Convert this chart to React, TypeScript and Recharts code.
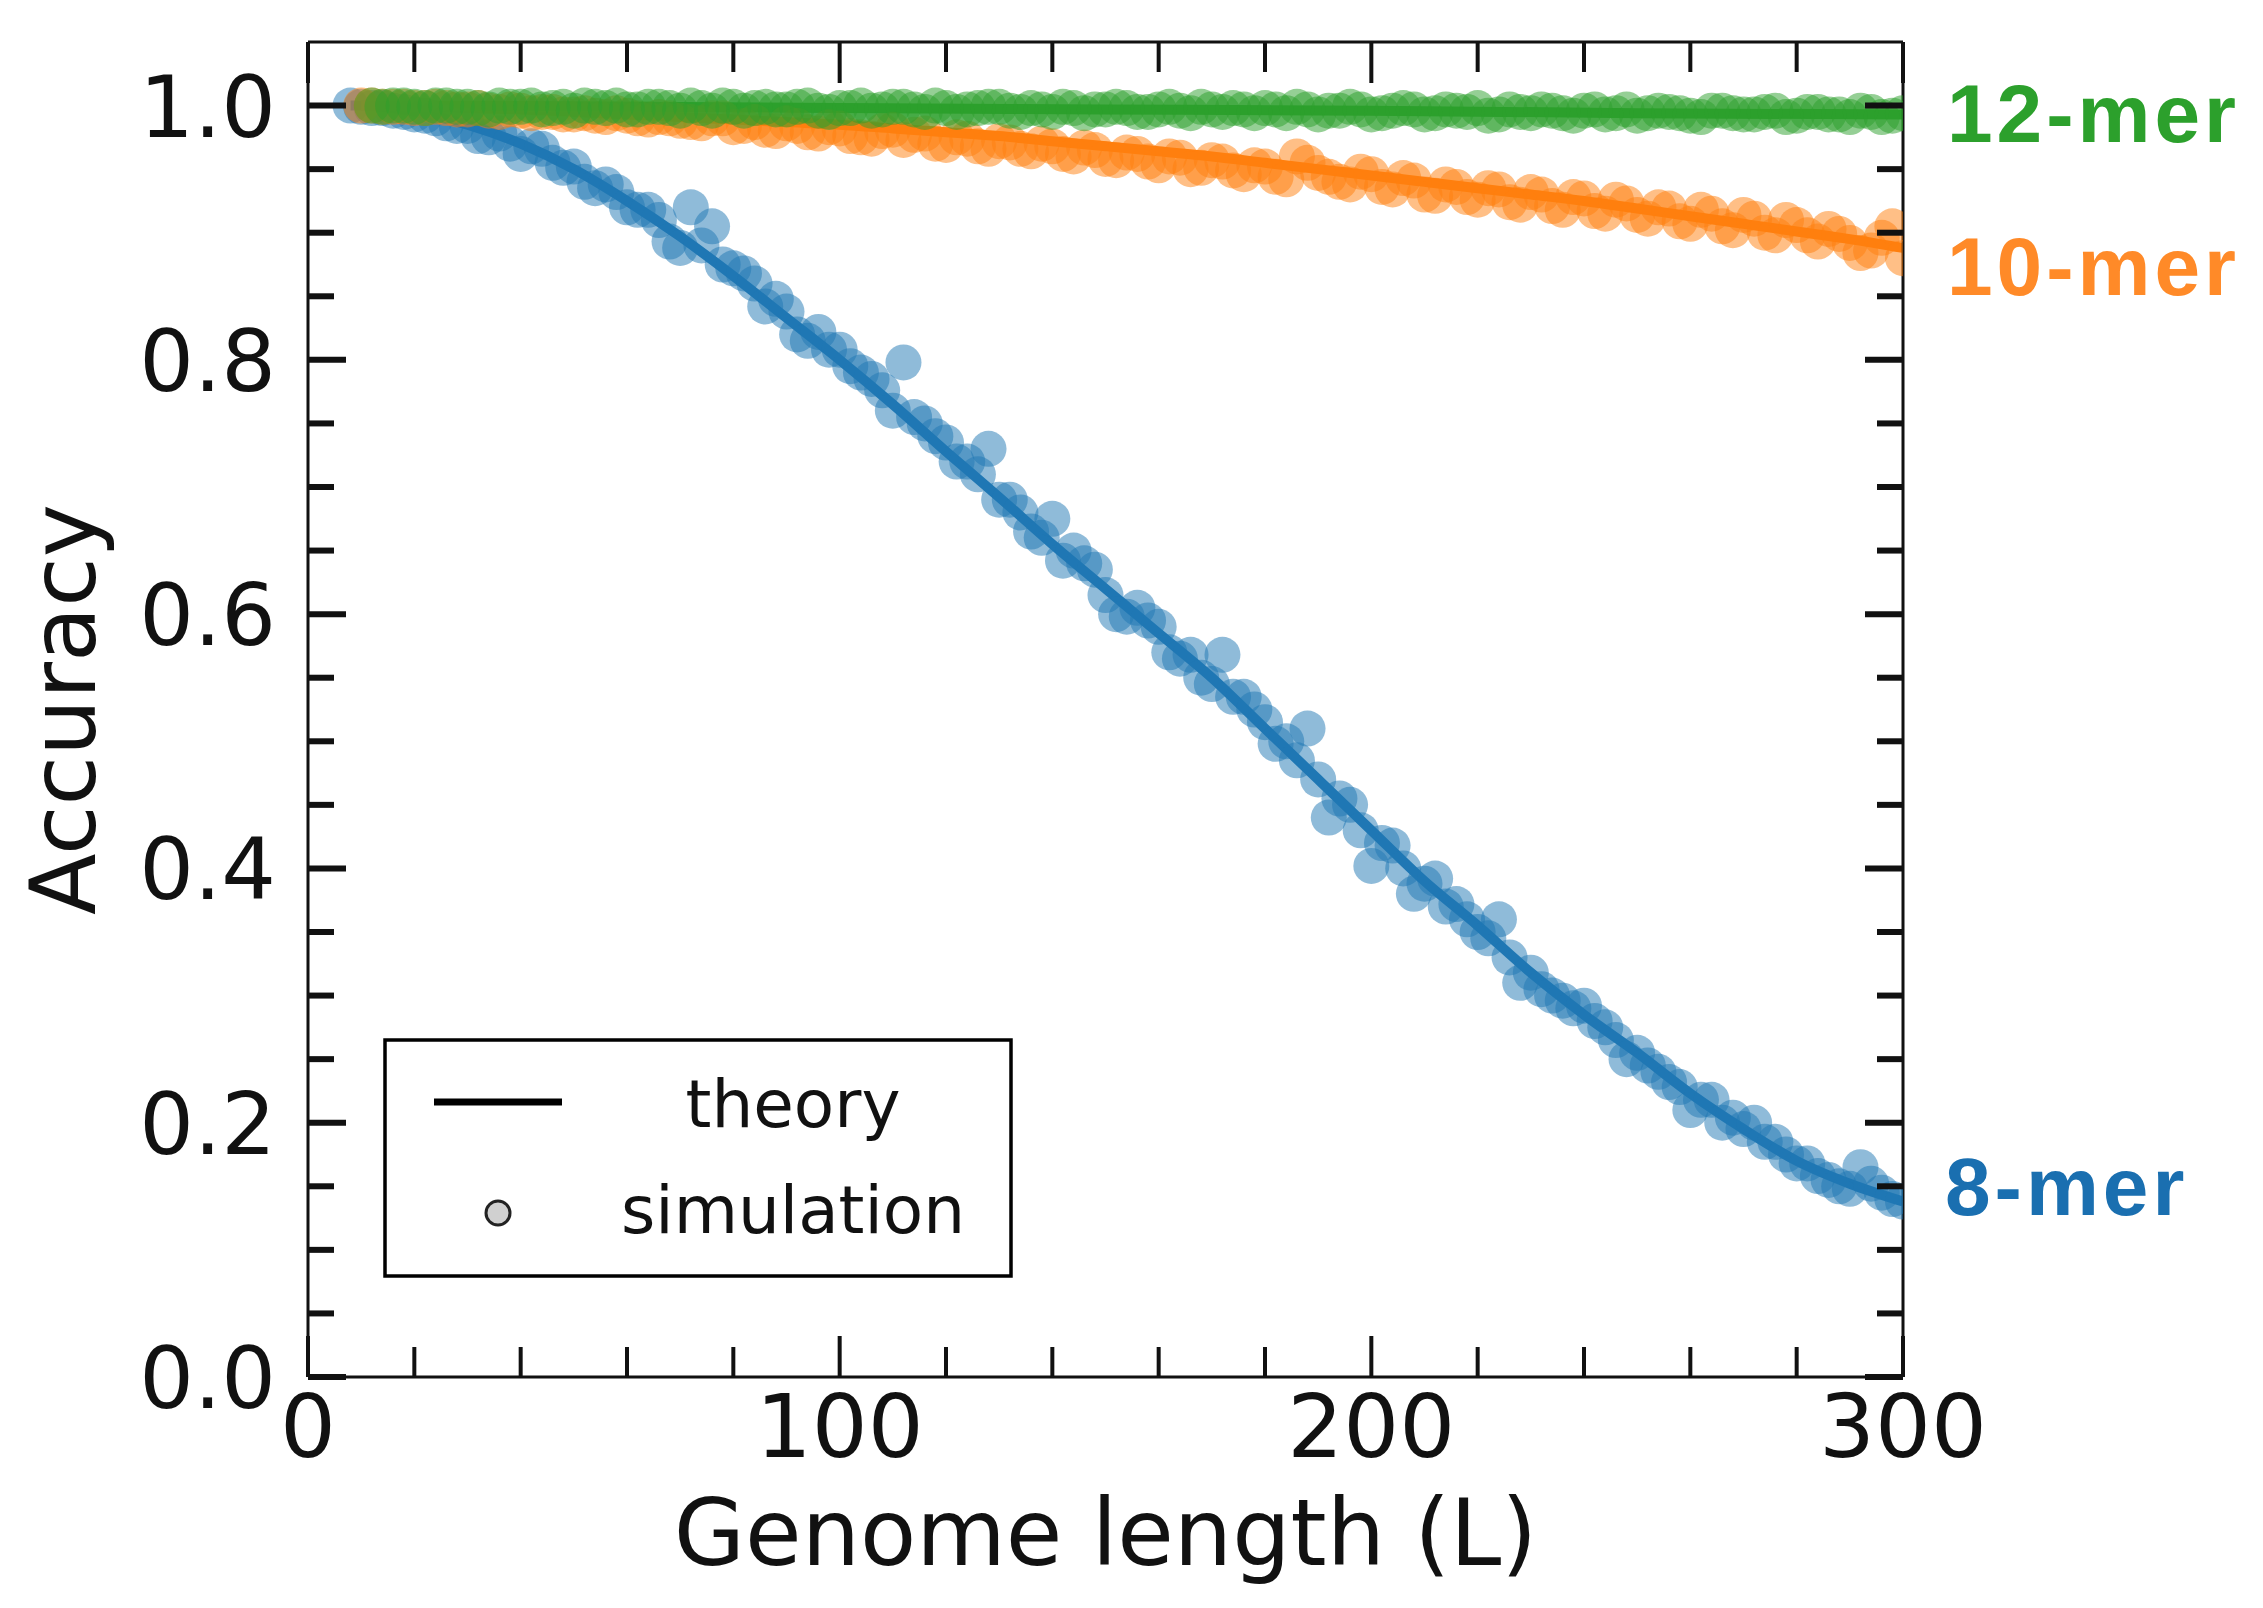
import { ComposedChart, Line, Scatter, XAxis, YAxis } from 'recharts';

// canvas and plot frame (pixels)
const W = 2263;
const H = 1608;
const PL = 308;
const PR = 1903;
const PT = 42;
const PB = 1377;

const X_TICKS = [0, 20, 40, 60, 80, 100, 120, 140, 160, 180, 200, 220, 240, 260, 280, 300];
const X_MAJOR = [0, 100, 200, 300];
const Y_TICKS = [0, 0.05, 0.1, 0.15, 0.2, 0.25, 0.3, 0.35, 0.4, 0.45, 0.5, 0.55, 0.6, 0.65, 0.7, 0.75, 0.8, 0.85, 0.9, 0.95, 1.0];
const Y_MAJOR = [0, 0.2, 0.4, 0.6, 0.8, 1.0];

// theory curves
const THEORY_L_8 = [8, 10, 20, 30, 40, 50, 60, 70, 80, 90, 100, 110, 120, 130, 140, 150, 160, 170, 180, 190, 200, 210, 220, 230, 240, 250, 260, 270, 280, 290, 300];
const THEORY_8 = [1.0, 1.0, 0.995, 0.985, 0.97, 0.95, 0.925, 0.897, 0.866, 0.833, 0.8, 0.765, 0.728, 0.692, 0.655, 0.62, 0.585, 0.55, 0.51, 0.47, 0.43, 0.39, 0.355, 0.318, 0.285, 0.255, 0.223, 0.195, 0.17, 0.152, 0.138];

const THEORY_L_10 = [10, 20, 30, 40, 50, 60, 70, 80, 90, 100, 110, 120, 130, 140, 150, 160, 170, 180, 190, 200, 210, 220, 230, 240, 250, 260, 270, 280, 290, 300];
const THEORY_10 = [1.0, 0.9995, 0.998, 0.997, 0.995, 0.993, 0.991, 0.989, 0.987, 0.985, 0.982, 0.979, 0.976, 0.972, 0.968, 0.964, 0.96, 0.955, 0.95, 0.945, 0.94, 0.935, 0.93, 0.925, 0.919, 0.913, 0.907, 0.901, 0.895, 0.888];

const THEORY_L_12 = [12, 50, 100, 150, 200, 250, 300];
const THEORY_12 = [1.0, 0.9995, 0.998, 0.997, 0.996, 0.994, 0.993];

// simulation points, 8-mer
const SIM_L_8 = [8, 12, 16, 20, 24, 28, 32, 36, 40, 44, 48, 52, 56, 60, 64, 68, 72, 76, 80, 84, 88, 92, 96, 100, 104, 108, 112, 116, 120, 124, 128, 132, 136, 140, 144, 148, 152, 156, 160, 164, 168, 172, 176, 180, 184, 188, 192, 196, 200, 204, 208, 212, 216, 220, 224, 228, 232, 236, 240, 244, 248, 252, 256, 260, 264, 268, 272, 276, 280, 284, 288, 292, 296, 300];
const SIM_8 = [1.0, 0.998, 0.996, 0.993, 0.99, 0.984, 0.976, 0.978, 0.962, 0.966, 0.951, 0.94, 0.938, 0.92, 0.918, 0.893, 0.92, 0.905, 0.872, 0.86, 0.848, 0.82, 0.822, 0.808, 0.79, 0.776, 0.798, 0.75, 0.735, 0.72, 0.73, 0.69, 0.665, 0.675, 0.65, 0.635, 0.6, 0.605, 0.59, 0.565, 0.55, 0.568, 0.535, 0.515, 0.5, 0.51, 0.44, 0.45, 0.402, 0.418, 0.38, 0.392, 0.372, 0.35, 0.36, 0.31, 0.305, 0.296, 0.292, 0.275, 0.25, 0.245, 0.232, 0.21, 0.218, 0.204, 0.2, 0.185, 0.168, 0.158, 0.15, 0.165, 0.145, 0.138];
const SIM_L_8B = [10, 14, 18, 22, 26, 30, 34, 38, 42, 46, 50, 54, 58, 62, 66, 70, 74, 78, 82, 86, 90, 94, 98, 102, 106, 110, 114, 118, 122, 126, 130, 134, 138, 142, 146, 150, 154, 158, 162, 166, 170, 174, 178, 182, 186, 190, 194, 198, 202, 206, 210, 214, 218, 222, 226, 230, 234, 238, 242, 246, 250, 254, 258, 262, 266, 270, 274, 278, 282, 286, 290, 294, 298];
const SIM_8B = [0.999, 0.998, 0.995, 0.992, 0.986, 0.984, 0.975, 0.97, 0.968, 0.955, 0.952, 0.935, 0.932, 0.918, 0.91, 0.888, 0.89, 0.875, 0.868, 0.842, 0.838, 0.815, 0.808, 0.795, 0.785, 0.76, 0.755, 0.74, 0.72, 0.71, 0.69, 0.68, 0.66, 0.642, 0.64, 0.615, 0.598, 0.595, 0.57, 0.568, 0.545, 0.535, 0.525, 0.498, 0.485, 0.47, 0.455, 0.43, 0.42, 0.4, 0.388, 0.37, 0.36, 0.345, 0.33, 0.318, 0.3, 0.29, 0.28, 0.265, 0.255, 0.24, 0.228, 0.218, 0.2, 0.195, 0.185, 0.175, 0.168, 0.155, 0.148, 0.152, 0.14];

// simulation points, 10-mer
const SIM_L_10 = [10, 14, 18, 22, 26, 30, 34, 38, 42, 46, 50, 54, 58, 62, 66, 70, 74, 78, 82, 86, 90, 94, 98, 102, 106, 110, 114, 118, 122, 126, 130, 134, 138, 142, 146, 150, 154, 158, 162, 166, 170, 174, 178, 182, 186, 190, 194, 198, 202, 206, 210, 214, 218, 222, 226, 230, 234, 238, 242, 246, 250, 254, 258, 262, 266, 270, 274, 278, 282, 286, 290, 294, 298];
const SIM_10 = [1.0, 0.999, 0.999, 0.998, 0.998, 0.997, 0.996, 0.997, 0.994, 0.995, 0.993, 0.992, 0.994, 0.99, 0.991, 0.988, 0.986, 0.99, 0.984, 0.981, 0.986, 0.979, 0.983, 0.976, 0.974, 0.981, 0.977, 0.97, 0.975, 0.968, 0.972, 0.966, 0.97, 0.962, 0.967, 0.958, 0.963, 0.956, 0.96, 0.95, 0.957, 0.949, 0.953, 0.944, 0.96, 0.947, 0.94, 0.948, 0.936, 0.943, 0.93, 0.938, 0.928, 0.935, 0.924, 0.932, 0.921, 0.928, 0.917, 0.926, 0.914, 0.92, 0.909, 0.918, 0.905, 0.914, 0.9, 0.91, 0.898, 0.903, 0.892, 0.886, 0.905];
const SIM_L_10B = [12, 16, 20, 24, 28, 32, 36, 40, 44, 48, 52, 56, 60, 64, 68, 72, 76, 80, 84, 88, 92, 96, 100, 104, 108, 112, 116, 120, 124, 128, 132, 136, 140, 144, 148, 152, 156, 160, 164, 168, 172, 176, 180, 184, 188, 192, 196, 200, 204, 208, 212, 216, 220, 224, 228, 232, 236, 240, 244, 248, 252, 256, 260, 264, 268, 272, 276, 280, 284, 288, 292, 296, 300];
const SIM_10B = [1.0, 0.999, 0.998, 0.999, 0.997, 0.998, 0.995, 0.996, 0.995, 0.993, 0.994, 0.991, 0.992, 0.989, 0.99, 0.987, 0.99, 0.983, 0.987, 0.98, 0.984, 0.978, 0.982, 0.975, 0.98, 0.973, 0.978, 0.969, 0.974, 0.966, 0.971, 0.964, 0.968, 0.96, 0.965, 0.957, 0.962, 0.953, 0.959, 0.951, 0.956, 0.946, 0.952, 0.942, 0.955, 0.944, 0.938, 0.946, 0.934, 0.941, 0.929, 0.936, 0.926, 0.934, 0.922, 0.93, 0.918, 0.927, 0.915, 0.923, 0.911, 0.919, 0.907, 0.915, 0.902, 0.911, 0.898, 0.906, 0.893, 0.899, 0.884, 0.896, 0.88];

// simulation points, 12-mer
const SIM_L_12 = [12, 16, 20, 24, 28, 32, 36, 40, 44, 48, 52, 56, 60, 64, 68, 72, 76, 80, 84, 88, 92, 96, 100, 104, 108, 112, 116, 120, 124, 128, 132, 136, 140, 144, 148, 152, 156, 160, 164, 168, 172, 176, 180, 184, 188, 192, 196, 200, 204, 208, 212, 216, 220, 224, 228, 232, 236, 240, 244, 248, 252, 256, 260, 264, 268, 272, 276, 280, 284, 288, 292, 296, 300];
const SIM_12 = [1.0, 1.0, 0.999, 1.0, 0.999, 0.998, 1.0, 0.999, 0.997, 0.999, 1.0, 0.998, 0.997, 0.999, 0.998, 1.0, 0.996, 0.999, 0.998, 0.997, 0.999, 0.996, 0.998, 1.0, 0.997, 0.999, 0.995, 0.998, 0.997, 0.999, 0.996, 0.998, 0.995, 0.998, 0.997, 0.999, 0.995, 0.997, 0.996, 0.999, 0.995, 0.997, 0.998, 0.994, 0.997, 0.996, 0.999, 0.993, 0.996, 0.997, 0.994, 0.996, 0.998, 0.993, 0.995, 0.997, 0.994, 0.996, 0.993, 0.997, 0.994, 0.995, 0.992, 0.996, 0.994, 0.993, 0.996, 0.992, 0.995, 0.993, 0.996, 0.991, 0.994];
const SIM_L_12B = [14, 18, 22, 26, 30, 34, 38, 42, 46, 50, 54, 58, 62, 66, 70, 74, 78, 82, 86, 90, 94, 98, 102, 106, 110, 114, 118, 122, 126, 130, 134, 138, 142, 146, 150, 154, 158, 162, 166, 170, 174, 178, 182, 186, 190, 194, 198, 202, 206, 210, 214, 218, 222, 226, 230, 234, 238, 242, 246, 250, 254, 258, 262, 266, 270, 274, 278, 282, 286, 290, 294, 298];
const SIM_12B = [0.999, 1.0, 0.998, 1.0, 0.999, 0.997, 0.999, 1.0, 0.998, 0.996, 0.999, 1.0, 0.997, 0.999, 0.996, 0.998, 1.0, 0.996, 0.999, 0.997, 1.0, 0.995, 0.998, 0.996, 0.999, 0.997, 1.0, 0.995, 0.998, 0.999, 0.995, 0.997, 0.999, 0.994, 0.997, 0.998, 0.995, 0.999, 0.994, 0.997, 0.998, 0.994, 0.997, 0.999, 0.993, 0.996, 0.997, 0.994, 0.998, 0.993, 0.997, 0.995, 0.992, 0.997, 0.994, 0.996, 0.992, 0.997, 0.994, 0.992, 0.996, 0.994, 0.991, 0.996, 0.993, 0.995, 0.991, 0.995, 0.993, 0.991, 0.995, 0.992];

const BLUE = '#1f77b4';
const ORANGE = '#ff7f0e';
const GREEN = '#2ca02c';
const INK = '#111';
const FONT = '"DejaVu Sans", sans-serif';

const toPoints = (ls: number[], vs: number[]) => ls.map((L, i) => ({ L, acc: vs[i] }));
const merge = (a: { L: number; acc: number }[], b: { L: number; acc: number }[]) =>
  [...a, ...b].sort((p, q) => p.L - q.L);

const isIn = (v: number, list: number[]) => list.some((m) => Math.abs(m - v) < 1e-9);

const LeftTick = (p: any) => {
  const v = p.payload.value;
  const major = isIn(v, Y_MAJOR);
  return (
    <g>
      <line x1={PL} x2={PL + (major ? 38 : 26)} y1={p.y} y2={p.y} stroke={INK} strokeWidth={6} />
      {major && (
        <text x={276} y={p.y + 31} textAnchor="end" fontSize={86} fontFamily={FONT} fill={INK}>
          {v.toFixed(1)}
        </text>
      )}
    </g>
  );
};

const RightTick = (p: any) => {
  const major = isIn(p.payload.value, Y_MAJOR);
  return <line x1={PR - (major ? 38 : 26)} x2={PR} y1={p.y} y2={p.y} stroke={INK} strokeWidth={6} />;
};

const BottomTick = (p: any) => {
  const v = p.payload.value;
  const major = isIn(v, X_MAJOR);
  return (
    <g>
      <line x1={p.x} x2={p.x} y1={PB} y2={PB - (major ? 41 : 30)} stroke={INK} strokeWidth={4} />
      {major && (
        <text x={p.x} y={PB + 80} textAnchor="middle" fontSize={88} fontFamily={FONT} fill={INK}>
          {v}
        </text>
      )}
    </g>
  );
};

const TopTick = (p: any) => {
  const major = isIn(p.payload.value, X_MAJOR);
  return <line x1={p.x} x2={p.x} y1={PT} y2={PT + (major ? 41 : 30)} stroke={INK} strokeWidth={4} />;
};

const dot = (color: string) => (p: any) => (
  <circle cx={p.cx} cy={p.cy} r={18} fill={color} fillOpacity={0.5} />
);

export default function App() {
  const axisLine = { stroke: INK, strokeWidth: 3 };
  return (
    <div style={{ position: 'absolute', left: 0, top: 0, width: W, height: H, background: '#fff' }}>
      <ComposedChart
        width={W}
        height={H}
        margin={{ top: PT - 2, right: W - PR - 2, bottom: H - PB - 100, left: PL - 100 }}
      >
        <XAxis
          xAxisId={0}
          type="number"
          dataKey="L"
          domain={[0, 300]}
          ticks={X_TICKS}
          interval={0}
          height={100}
          axisLine={axisLine}
          tickLine={false}
          tick={BottomTick}
          allowDataOverflow
        />
        <XAxis
          xAxisId="top"
          orientation="top"
          type="number"
          dataKey="L"
          domain={[0, 300]}
          ticks={X_TICKS}
          interval={0}
          height={2}
          axisLine={axisLine}
          tickLine={false}
          tick={TopTick}
          allowDataOverflow
        />
        <YAxis
          yAxisId={0}
          type="number"
          dataKey="acc"
          domain={[0, 1.05]}
          ticks={Y_TICKS}
          interval={0}
          width={100}
          axisLine={axisLine}
          tickLine={false}
          tick={LeftTick}
          allowDataOverflow
        />
        <YAxis
          yAxisId="right"
          orientation="right"
          type="number"
          dataKey="acc"
          domain={[0, 1.05]}
          ticks={Y_TICKS}
          interval={0}
          width={2}
          axisLine={axisLine}
          tickLine={false}
          tick={RightTick}
          allowDataOverflow
        />

        <Scatter data={merge(toPoints(SIM_L_8, SIM_8), toPoints(SIM_L_8B, SIM_8B))} shape={dot(BLUE)} isAnimationActive={false} />
        <Line data={toPoints(THEORY_L_8, THEORY_8)} dataKey="acc" type="monotone" stroke={BLUE} strokeWidth={10} dot={false} isAnimationActive={false} />
        <Scatter data={merge(toPoints(SIM_L_10, SIM_10), toPoints(SIM_L_10B, SIM_10B))} shape={dot(ORANGE)} isAnimationActive={false} />
        <Line data={toPoints(THEORY_L_10, THEORY_10)} dataKey="acc" type="monotone" stroke={ORANGE} strokeWidth={10} dot={false} isAnimationActive={false} />
        <Scatter data={merge(toPoints(SIM_L_12, SIM_12), toPoints(SIM_L_12B, SIM_12B))} shape={dot(GREEN)} isAnimationActive={false} />
        <Line data={toPoints(THEORY_L_12, THEORY_12)} dataKey="acc" type="monotone" stroke={GREEN} strokeWidth={10} dot={false} isAnimationActive={false} />
      </ComposedChart>

      <svg width={W} height={H} style={{ position: 'absolute', left: 0, top: 0, pointerEvents: 'none' }}>
        {/* axis titles */}
        <text x={(PL + PR) / 2} y={1565} textAnchor="middle" fontSize={92} fontFamily={FONT} fill={INK}>
          Genome length (L)
        </text>
        <text
          x={95}
          y={(PT + PB) / 2}
          transform={`rotate(-90 95 ${(PT + PB) / 2})`}
          textAnchor="middle"
          fontSize={90}
          fontFamily={FONT}
          fill={INK}
        >
          Accuracy
        </text>

        {/* legend */}
        <rect x={385} y={1040} width={626} height={236} fill="#fff" stroke="#000" strokeWidth={3.5} />
        <line x1={434} x2={562} y1={1102} y2={1102} stroke="#000" strokeWidth={7} />
        <text x={793} y={1127} textAnchor="middle" fontSize={66} fontFamily={FONT} fill={INK}>
          theory
        </text>
        <circle cx={498} cy={1213} r={12} fill="#d0d0d0" stroke="#222" strokeWidth={3} />
        <text x={793} y={1233} textAnchor="middle" fontSize={66} fontFamily={FONT} fill={INK}>
          simulation
        </text>

        {/* series labels */}
        <g fontFamily='"Liberation Sans", Arial, sans-serif' fontWeight="bold" fontSize={82} letterSpacing={4}>
          <text x={1947} y={142} fill="#2ca02c">12-mer</text>
          <text x={1947} y={295} fill="#ff8a28">10-mer</text>
          <text x={1945} y={1215} fill="#1a6fb0">8-mer</text>
        </g>
      </svg>
    </div>
  );
}
